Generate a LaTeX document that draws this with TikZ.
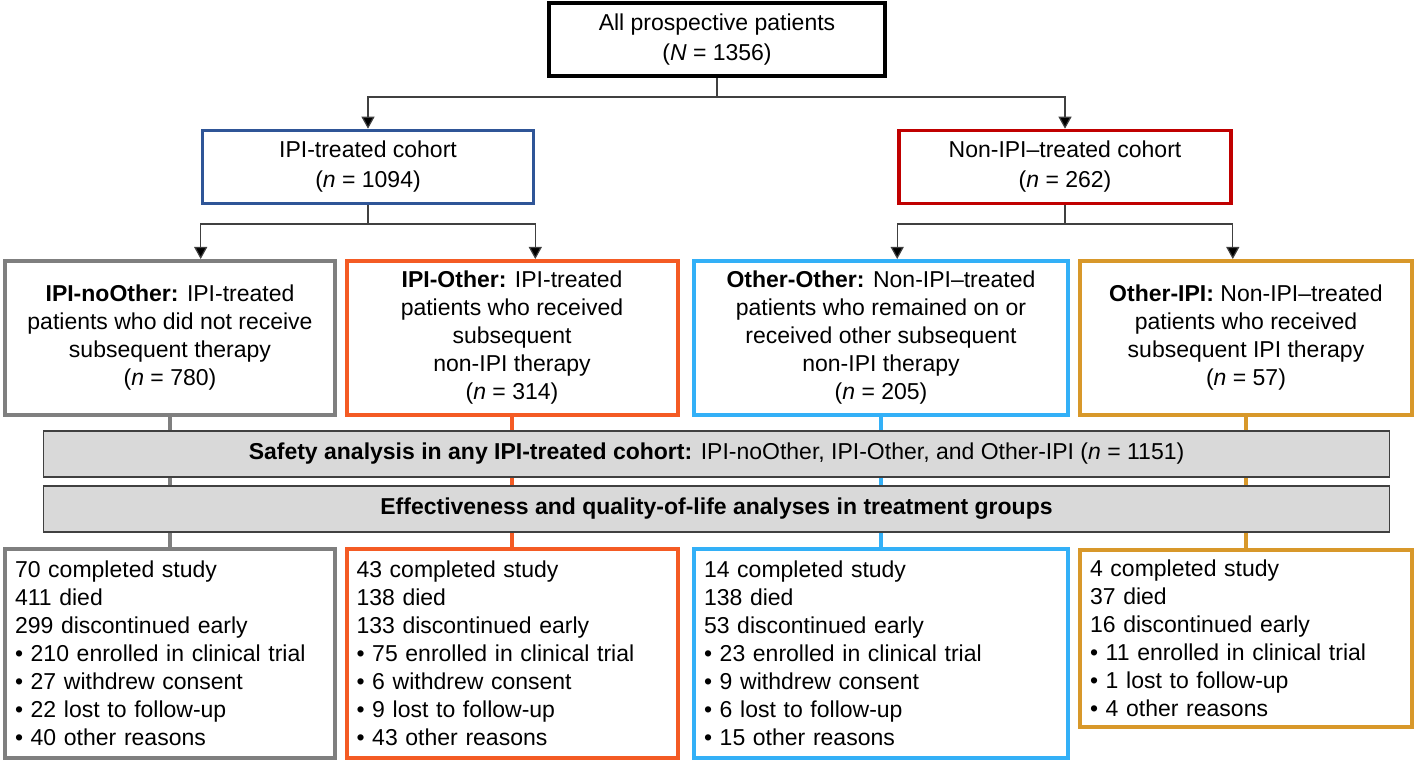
\documentclass[tikz,border=0pt]{standalone}
\usepackage{fontspec}
\setmainfont{Liberation Sans}
\usetikzlibrary{arrows.meta}
\definecolor{ipiblue}{HTML}{2F5597}
\definecolor{nonred}{HTML}{C00000}
\definecolor{nogray}{HTML}{7F7F7F}
\definecolor{ipiorange}{HTML}{F45B24}
\definecolor{othblue}{HTML}{33B0F7}
\definecolor{ipigold}{HTML}{D8982A}
\definecolor{barfill}{HTML}{D9D9D9}
\definecolor{linegray}{HTML}{404040}
\begin{document}
\begin{tikzpicture}[x=0.5pt, y=-0.5pt,
        box/.style = {draw, line width=2pt, align=center, inner sep=0pt,
            font=\fontsize{11.5}{14}\selectfont},
        grp/.style = {box, minimum height=77pt},
        res/.style = {box, align=left, inner xsep=5pt, minimum height=104.5pt},
        bar/.style = {draw=linegray, fill=barfill, line width=0.6pt,
            minimum width=673pt, minimum height=23pt, inner sep=0pt,
            font=\fontsize{11.5}{14}\selectfont},
        link/.style = {draw=linegray, line width=0.6pt},
        arrow/.style = {link, -{Triangle[width=6.5pt,length=6pt,fill=black]}},
        feed/.style = {line width=2pt}]
    \useasboundingbox (0,0) rectangle (1418,764);

    % cohorts
    \node[box, minimum width=168pt, minimum height=36.5pt,
        font=\fontsize{11.5}{15}\selectfont] (all) at (717,40)
        {All prospective patients\\(\textit{N} = 1356)};
    \node[box, draw=ipiblue, line width=1.8pt, minimum width=165.5pt, minimum height=36.5pt,
        font=\fontsize{11.5}{15}\selectfont] (ipi) at (368,167)
        {IPI-treated cohort\\(\textit{n} = 1094)};
    \node[box, draw=nonred, line width=1.8pt, minimum width=166pt, minimum height=36.5pt,
        font=\fontsize{11.5}{15}\selectfont] (non) at (1065,167)
        {Non-IPI–treated cohort\\(\textit{n} = 262)};

    % treatment groups
    \node[grp, draw=nogray, minimum width=165pt] (g1) at (170,338)
        {\textbf{IPI-noOther:} IPI-treated\\patients who did not receive\\subsequent therapy\\(\textit{n} = 780)};
    \node[grp, draw=ipiorange, minimum width=165.5pt] (g2) at (512,338)
        {\textbf{IPI-Other:} IPI-treated\\patients who received\\subsequent\\non-IPI therapy\\(\textit{n} = 314)};
    \node[grp, draw=othblue, minimum width=187pt] (g3) at (881,338)
        {\textbf{Other-Other:} Non-IPI–treated\\patients who remained on or\\received other subsequent\\non-IPI therapy\\(\textit{n} = 205)};
    \node[grp, draw=ipigold, minimum width=166pt] (g4) at (1246,338)
        {\textbf{Other-IPI:} Non-IPI–treated\\patients who received\\subsequent IPI therapy\\(\textit{n} = 57)};

    % outcomes
    \node[res, draw=nogray, text width=155pt] (b1) at (170,653.5)
        {70 completed study\\411 died\\299 discontinued early\\• 210 enrolled in clinical trial\\• 27 withdrew consent\\• 22 lost to follow-up\\• 40 other reasons};
    \node[res, draw=ipiorange, text width=155.5pt] (b2) at (512,653.5)
        {43 completed study\\138 died\\133 discontinued early\\• 75 enrolled in clinical trial\\• 6 withdrew consent\\• 9 lost to follow-up\\• 43 other reasons};
    \node[res, draw=othblue, text width=177pt] (b3) at (881,653.5)
        {14 completed study\\138 died\\53 discontinued early\\• 23 enrolled in clinical trial\\• 9 withdrew consent\\• 6 lost to follow-up\\• 15 other reasons};
    \node[res, draw=ipigold, text width=156pt, minimum height=88.5pt] (b4) at (1246,638)
        {4 completed study\\37 died\\16 discontinued early\\• 11 enrolled in clinical trial\\• 1 lost to follow-up\\• 4 other reasons};

    % splits
    \coordinate (allj) at (717,97);
    \coordinate (ipij) at (368,224);
    \coordinate (nonj) at (1065,224);
    \draw[link] (all) -- (allj);
    \draw[arrow] (allj) -| (ipi);
    \draw[arrow] (allj) -| (non);
    \draw[link] (ipi) -- (ipij);
    \draw[arrow] (ipij) -| (g1.north -| ipi.west);
    \draw[arrow] (ipij) -| (g2.north -| ipi.east);
    \draw[link] (non) -- (nonj);
    \draw[arrow] (nonj) -| (g3.north -| non.west);
    \draw[arrow] (nonj) -| (g4.north -| non.east);

    % group to outcome, behind the bars
    \draw[feed, nogray] (g1) -- (b1);
    \draw[feed, ipiorange] (g2) -- (b2);
    \draw[feed, othblue] (g3) -- (b3);
    \draw[feed, ipigold] (g4) -- (b4);

    \node[bar] (safety) at (716.5,454)
        {\textbf{Safety analysis in any IPI-treated cohort:} IPI-noOther, IPI-Other, and Other-IPI (\textit{n} = 1151)};
    \node[bar] (effect) at (716.5,509)
        {\textbf{Effectiveness and quality-of-life analyses in treatment groups}};
\end{tikzpicture}
\end{document}
